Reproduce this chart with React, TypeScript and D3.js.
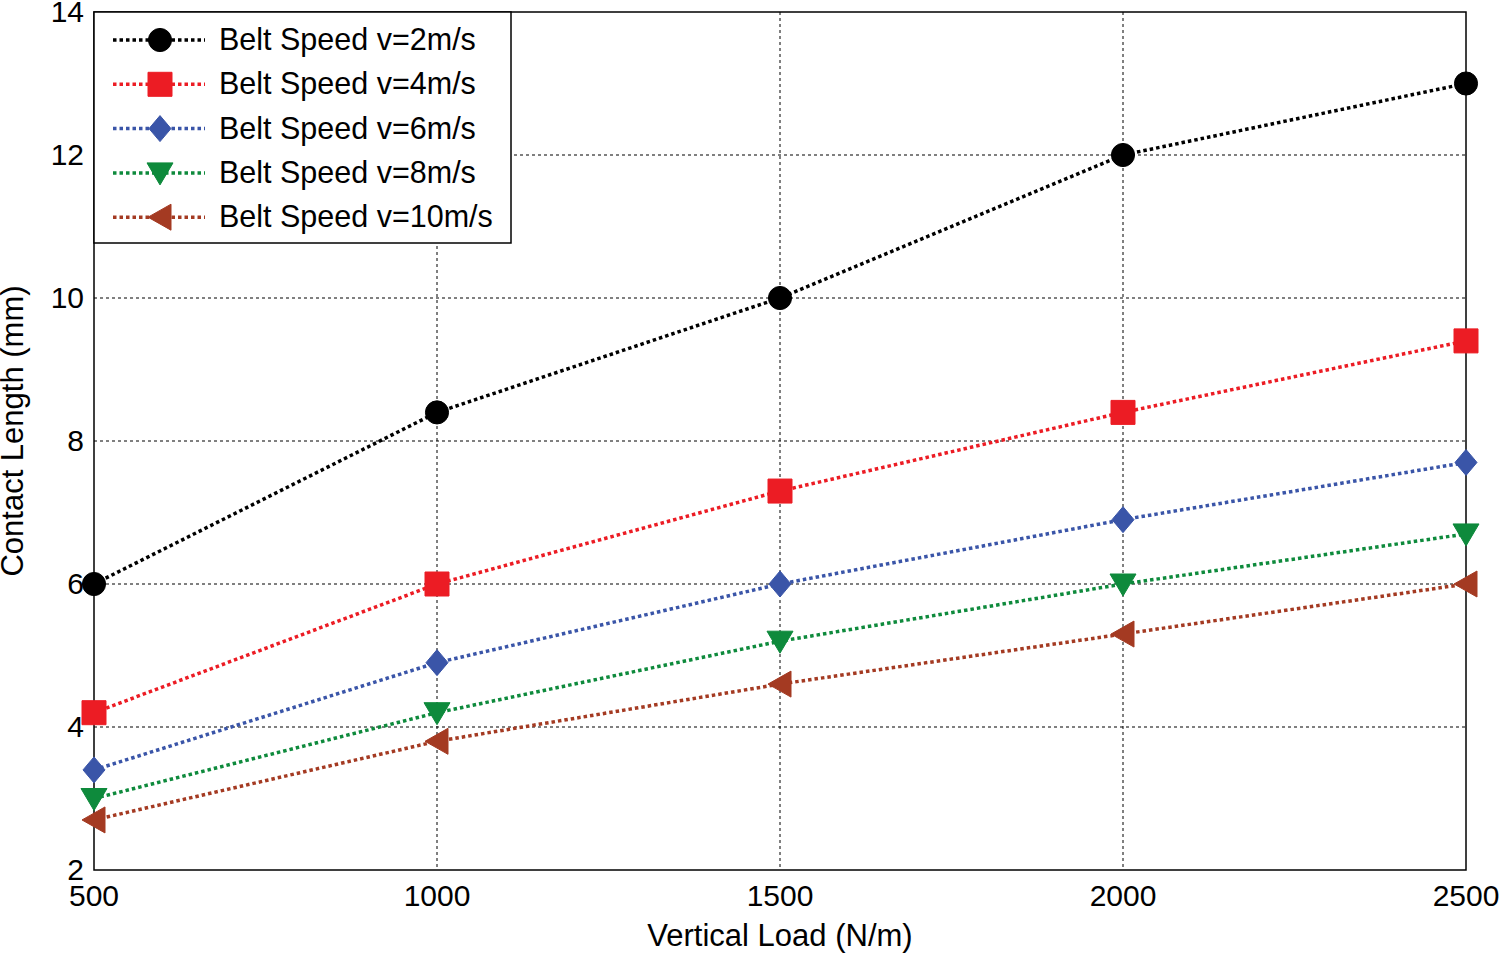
import { useEffect, useRef } from 'react';
import * as d3 from 'd3';

const loads = [500, 1000, 1500, 2000, 2500];
const xTicks = [500, 1000, 1500, 2000, 2500];
const yTicks = [2, 4, 6, 8, 10, 12, 14];
const labels = ['Belt Speed v=2m/s', 'Belt Speed v=4m/s', 'Belt Speed v=6m/s', 'Belt Speed v=8m/s', 'Belt Speed v=10m/s'];
const colors = ['#000000', '#ec1c24', '#3a55a8', '#0e8a3c', '#a43a22'];
const markers = ['circle', 'square', 'diamond', 'down', 'left'];
const v2 = [6, 8.4, 10, 12, 13];
const v4 = [4.2, 6, 7.3, 8.4, 9.4];
const v6 = [3.4, 4.9, 6, 6.9, 7.7];
const v8 = [3.0, 4.2, 5.2, 6.0, 6.7];
const v10 = [2.7, 3.8, 4.6, 5.3, 6.0];
const series = [v2, v4, v6, v8, v10];

const W = 1501, H = 954;
const margin = { top: 12, right: 35, bottom: 84, left: 94 };

function markerPath(kind: string): string {
    const s = 12;
    switch (kind) {
        case 'circle': return d3.symbol(d3.symbolCircle, 420)() as string;
        case 'square': return `M${-s},${-s}H${s}V${s}H${-s}Z`;
        case 'diamond': return `M0,${-13}L${11},0L0,${13}L${-11},0Z`;
        case 'down': return `M${-13},${-10}L${13},${-10}L0,${12}Z`;
        default: return `M${-12},0L${11},${-13}L${11},${13}Z`;
    }
}

const App = () => {
    const ref = useRef<SVGSVGElement>(null);

    useEffect(() => {
        const root = d3.select(ref.current);
        root.selectAll('*').remove();
        const width = W - margin.left - margin.right;
        const height = H - margin.top - margin.bottom;
        const x = d3.scaleLinear().domain([500, 2500]).range([0, width]);
        const y = d3.scaleLinear().domain([2, 14]).range([height, 0]);
        const svg = root.append('g').attr('transform', `translate(${margin.left},${margin.top})`);
        const font = '"Liberation Sans", Arial, sans-serif';

        // grid
        svg.selectAll('.gx').data(xTicks.slice(1, -1)).enter().append('line')
            .attr('x1', d => x(d)).attr('x2', d => x(d)).attr('y1', 0).attr('y2', height)
            .attr('stroke', '#000').attr('stroke-width', 1).attr('stroke-dasharray', '3,3');
        svg.selectAll('.gy').data(yTicks.slice(1, -1)).enter().append('line')
            .attr('x1', 0).attr('x2', width).attr('y1', d => y(d)).attr('y2', d => y(d))
            .attr('stroke', '#000').attr('stroke-width', 1).attr('stroke-dasharray', '3,3');

        svg.append('rect').attr('width', width).attr('height', height)
            .attr('fill', 'none').attr('stroke', '#000').attr('stroke-width', 1.5);

        svg.selectAll('.tx').data(xTicks).enter().append('text')
            .attr('x', d => x(d)).attr('y', height + 36).attr('text-anchor', 'middle')
            .style('font-family', font).style('font-size', '30px').text(d => d);
        svg.selectAll('.ty').data(yTicks).enter().append('text')
            .attr('x', -10).attr('y', d => y(d) + 10).attr('text-anchor', 'end')
            .style('font-family', font).style('font-size', '30px').text(d => d);

        svg.append('text').attr('x', width / 2).attr('y', height + 76).attr('text-anchor', 'middle')
            .style('font-family', font).style('font-size', '31px').text('Vertical Load (N/m)');
        svg.append('text').attr('transform', 'rotate(-90)')
            .attr('x', -height / 2 + 10).attr('y', -71).attr('text-anchor', 'middle')
            .style('font-family', font).style('font-size', '31px').text('Contact Length (mm)');

        const line = d3.line<number>().x((_, i) => x(loads[i])).y(d => y(d));
        series.forEach((vals, k) => {
            svg.append('path').datum(vals).attr('d', line).attr('fill', 'none')
                .attr('stroke', colors[k]).attr('stroke-width', 3.5).attr('stroke-dasharray', '3.5,3');
            svg.selectAll(null).data(vals).enter().append('path')
                .attr('d', markerPath(markers[k]))
                .attr('transform', (d, i) => `translate(${x(loads[i])},${y(d)})`)
                .attr('fill', colors[k]).attr('stroke', colors[k]).attr('stroke-width', 1);
        });

        // legend
        const lg = svg.append('g');
        lg.append('rect').attr('x', 0).attr('y', 0).attr('width', 417).attr('height', 231)
            .attr('fill', '#fff').attr('stroke', '#000').attr('stroke-width', 1.5);
        labels.forEach((lab, k) => {
            const ly = 28 + k * 44.3;
            lg.append('line').attr('x1', 19).attr('x2', 111).attr('y1', ly).attr('y2', ly)
                .attr('stroke', colors[k]).attr('stroke-width', 3.5).attr('stroke-dasharray', '3.5,3');
            lg.append('path').attr('d', markerPath(markers[k])).attr('transform', `translate(66,${ly})`)
                .attr('fill', colors[k]).attr('stroke', colors[k]);
            lg.append('text').attr('x', 125).attr('y', ly + 10)
                .style('font-family', font).style('font-size', '30.5px').text(lab);
        });
    }, []);

    return <svg ref={ref} width={W} height={H} style={{ position: 'absolute', left: 0, top: 0, background: '#fff' }} />;
};

export default App;
